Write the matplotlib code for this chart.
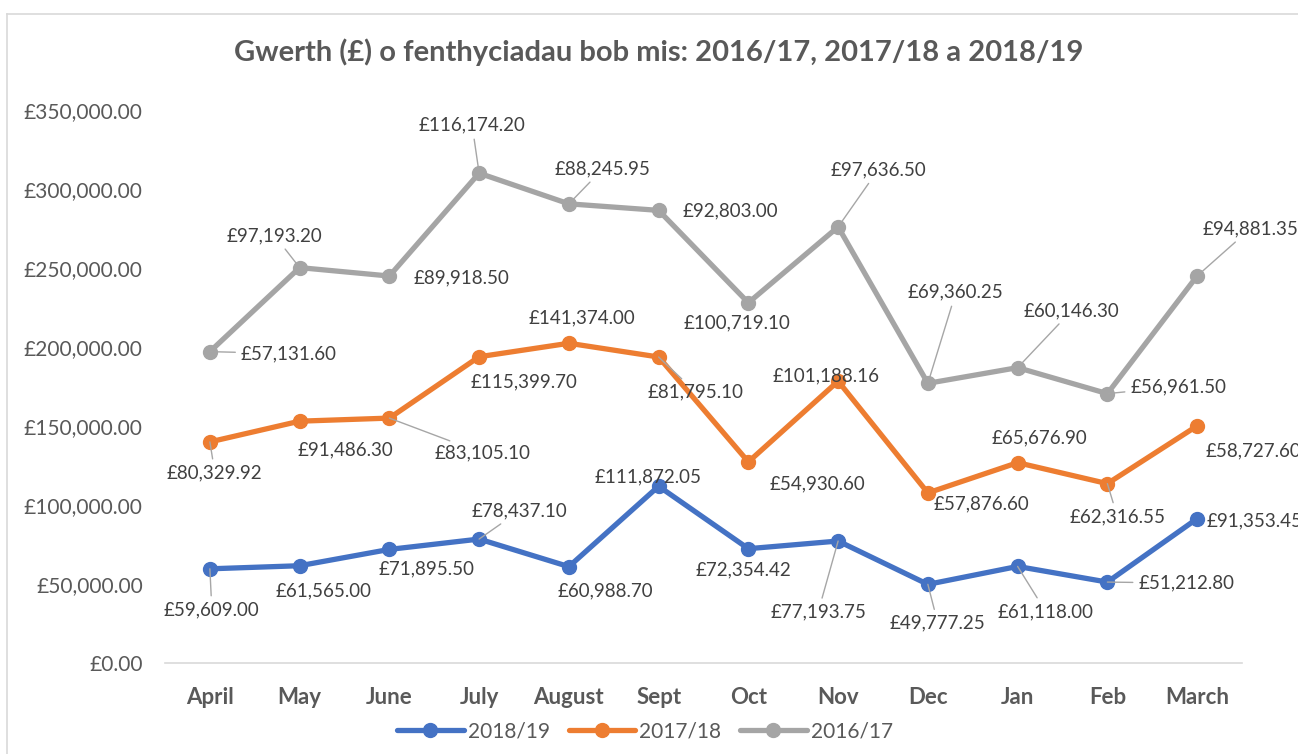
import matplotlib
matplotlib.use("Agg")
import matplotlib.pyplot as plt
from matplotlib.lines import Line2D
import numpy as np

plt.rcParams['font.family'] = ['Lato', 'DejaVu Sans']

months = ["April", "May", "June", "July", "August", "Sept", "Oct", "Nov", "Dec", "Jan", "Feb", "March"]
s2018_19 = [59609.00, 61565.00, 71895.50, 78437.10, 60988.70, 111872.05, 72354.42, 77193.75,
            49777.25, 61118.00, 51212.80, 91353.45]
s2017_18 = [80329.92, 91486.30, 83105.10, 115399.70, 141374.00, 81795.10, 54930.60, 101188.16,
            57876.60, 65676.90, 62316.55, 58727.60]
s2016_17 = [57131.60, 97193.20, 89918.50, 116174.20, 88245.95, 92803.00, 100719.10, 97636.50,
            69360.25, 60146.30, 56961.50, 94881.35]
series_names = ["2018/19", "2017/18", "2016/17"]
title = "Gwerth (£) o fenthyciadau bob mis: 2016/17, 2017/18 a 2018/19"
yticks = [0, 50000, 100000, 150000, 200000, 250000, 300000, 350000]

colors = ["#4472C4", "#ED7D31", "#A5A5A5"]
# label offsets (pixels) and leader-line flags: styling only
offsets = [
    [(2, -41), (24, -25), (37, -19), (40, 28), (37, -24), (-11, 9), (-5, -21), (-20, -71),
     (10, -39), (28, -45), (79, -1), (57, -2)],
    [(5, -31), (46, -29), (93, -35), (45, -25), (13, 25), (37, -35), (69, -22), (-12, 5),
     (54, -11), (22, 25), (10, -33), (56, -25)],
    [(79, -2), (-25, 32), (72, -2), (-7, 48), (34, 35), (72, 0), (-11, -20), (40, 57),
     (28, 91), (54, 57), (71, 7), (53, 47)],
]
leaders = [
    [1, 0, 0, 1, 0, 0, 0, 1, 1, 1, 1, 0],
    [1, 0, 1, 0, 0, 1, 0, 0, 0, 0, 1, 0],
    [1, 1, 0, 1, 1, 0, 0, 1, 1, 1, 1, 1],
]

fig = plt.figure(figsize=(12.98, 7.54), dpi=100)
ax = fig.add_axes([165 / 1298, 91 / 754, 1077 / 1298, 553 / 754])

x = np.arange(len(months))
vals = [np.array(s2018_19), np.array(s2017_18), np.array(s2016_17)]
cum = np.zeros(len(months))
handles = []
for i, v in enumerate(vals):
    cum = cum + v
    ln, = ax.plot(x, cum, color=colors[i], lw=3.8, marker='o', ms=10, label=series_names[i],
                  solid_capstyle='round', zorder=3)
    handles.append(ln)
    for j in range(len(months)):
        dx, dy = offsets[i][j]
        ap = dict(arrowstyle='-', color='#A6A6A6', lw=1.0, shrinkA=2, shrinkB=0) if leaders[i][j] else None
        ax.annotate(f"£{v[j]:,.2f}", xy=(x[j], cum[j]), xytext=(dx, dy), textcoords='offset pixels',
                    ha='center', va='center', fontsize=13.5, color='#404040',
                    arrowprops=ap, annotation_clip=False, zorder=4)

ax.set_xlim(-0.5, len(months) - 0.5)
ax.set_ylim(0, 350000)
ax.set_yticks(yticks)
ax.set_yticklabels([f"£{t:,.2f}" for t in yticks], fontsize=15, color='#595959')
ax.set_xticks(x)
ax.set_xticklabels(months, fontsize=16, color='#595959', fontweight='bold')
ax.tick_params(axis='both', length=0)
ax.tick_params(axis='y', pad=16)
ax.tick_params(axis='x', pad=17)
for s in ['top', 'right', 'left']:
    ax.spines[s].set_visible(False)
ax.spines['bottom'].set_color('#D9D9D9')
ax.spines['bottom'].set_linewidth(1.2)

fig.text(659 / 1298, 1 - 52 / 754, title, ha='center', va='center', fontsize=21,
         fontweight='bold', color='#595959')

leg = fig.legend(handles=handles, loc='center', bbox_to_anchor=(645 / 1298, 1 - 731 / 754), ncol=3,
                 frameon=False, fontsize=15, handlelength=3.2, columnspacing=0.9, handletextpad=0.2)
for t in leg.get_texts():
    t.set_color('#595959')

# chart border
fig.add_artist(Line2D([7 / 1298, 1.0], [1 - 14 / 754] * 2, color='#D9D9D9', lw=1.2, transform=fig.transFigure))
fig.add_artist(Line2D([7 / 1298] * 2, [0, 1 - 14 / 754], color='#D9D9D9', lw=1.2, transform=fig.transFigure))

fig.savefig("out.png", dpi=100)
